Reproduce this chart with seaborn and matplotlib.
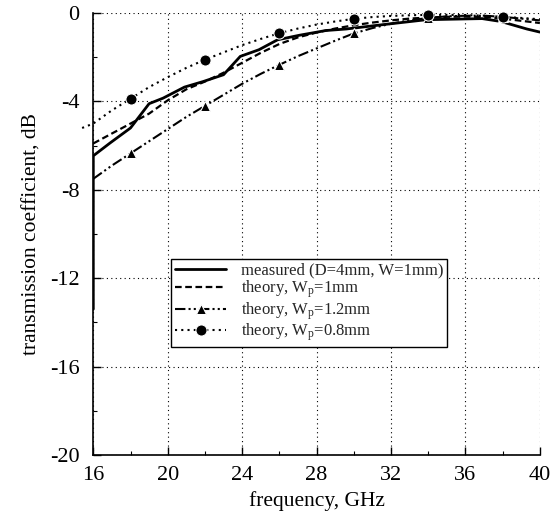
import matplotlib
matplotlib.use("Agg")
import matplotlib.pyplot as plt
import seaborn as sns
import pandas as pd

# ---- data ----
freq_theory = [16, 17, 18, 19, 20, 21, 22, 23, 24, 25, 26, 27, 28, 29, 30,
               31, 32, 33, 34, 35, 36, 37, 38, 39, 40]
theory_wp1 = [-5.9, -5.45, -5.0, -4.55, -3.95, -3.45, -3.1, -2.7, -2.25, -1.8,
              -1.4, -1.1, -0.88, -0.7, -0.55, -0.43, -0.33, -0.25, -0.2, -0.17,
              -0.16, -0.18, -0.25, -0.35, -0.45]
theory_wp12 = [-7.5, -6.9, -6.35, -5.8, -5.25, -4.7, -4.2, -3.7, -3.2, -2.75,
               -2.34, -1.95, -1.6, -1.25, -0.92, -0.68, -0.48, -0.33, -0.22,
               -0.15, -0.12, -0.12, -0.17, -0.25, -0.33]
freq_wp08 = [15.4] + freq_theory
theory_wp08 = [-5.2, -5.0, -4.4, -3.88, -3.35, -2.9, -2.48, -2.11, -1.78, -1.45,
               -1.17, -0.91, -0.7, -0.52, -0.38, -0.26, -0.18, -0.13, -0.1,
               -0.08, -0.08, -0.09, -0.12, -0.17, -0.22, -0.28]
freq_meas = [16, 16, 16.9, 18, 19, 19.75, 20.9, 21.9, 23, 23.9, 24.9, 25.9,
             27.1, 28.5, 29.6, 31.5, 33.9, 36.9, 37.9, 39.3, 40]
measured = [-13.4, -6.46, -5.88, -5.2, -4.1, -3.85, -3.35, -3.1, -2.79, -1.96,
            -1.66, -1.21, -1.0, -0.79, -0.72, -0.53, -0.3, -0.25, -0.38, -0.72,
            -0.86]

labels = ["measured (D=4mm, W=1mm)",
          r"theory, W$_{\rm p}$=1mm",
          r"theory, W$_{\rm p}$=1.2mm",
          r"theory, W$_{\rm p}$=0.8mm"]
xticks = [16, 20, 24, 28, 32, 36, 40]
yticks = [-20, -16, -12, -8, -4, 0]

sns.set_theme(style="white")
plt.rcParams["font.family"] = ["Liberation Serif", "DejaVu Serif"]
plt.rcParams["mathtext.fontset"] = "custom"
plt.rcParams["mathtext.rm"] = "Liberation Serif"
plt.rcParams["mathtext.it"] = "Liberation Serif:italic"
plt.rcParams["axes.unicode_minus"] = False

fig = plt.figure(figsize=(5.52, 5.23), dpi=100)
ax = fig.add_axes([0.169, 0.130, 0.809, 0.845])

sns.lineplot(x=freq_meas, y=measured, ax=ax, estimator=None, sort=False,
             color="black", lw=2.0, label=labels[0])
sns.lineplot(x=freq_theory, y=theory_wp1, ax=ax, estimator=None,
             color="black", lw=1.6, linestyle=(0, (3, 1.6)), label=labels[1])
sns.lineplot(x=freq_theory, y=theory_wp12, ax=ax, estimator=None,
             color="black", lw=1.5, linestyle=(0, (5, 1.5, 1, 1.5, 1, 1.5)),
             marker="^", markersize=7, markevery=slice(2, None, 4),
             label=labels[2])
sns.lineplot(x=freq_wp08, y=theory_wp08, ax=ax, estimator=None,
             color="black", lw=1.5, linestyle=(0, (1, 2)), marker="o",
             markersize=8, markevery=slice(3, None, 4), clip_on=False,
             label=labels[3])

ax.set_xlim(16, 40)
ax.set_ylim(-20, 0)
ax.set_xticks(xticks)
ax.set_yticks(yticks)
ax.set_xticks(range(16, 41, 2), minor=True)
ax.set_yticks(range(-20, 1, 2), minor=True)
ax.tick_params(which="both", direction="in", colors="black", labelsize=16,
               left=True, bottom=True, top=False, right=False)
ax.tick_params(which="major", length=6, width=1)
ax.tick_params(which="minor", length=3, width=0.8)
ax.tick_params(axis="y", which="major", pad=10)
ax.tick_params(axis="x", which="major", pad=8)
ax.grid(True, which="major", linestyle=(0, (1, 3)), color="black", lw=0.8)
for side in ["top", "right"]:
    ax.spines[side].set_visible(False)
for side in ["left", "bottom"]:
    ax.spines[side].set_color("black")
    ax.spines[side].set_linewidth(1.2)

ax.set_xlabel("frequency, GHz", fontsize=15.5, color="black", labelpad=4)
ax.set_ylabel("transmission coefficient, dB", fontsize=15.5, color="black",
              labelpad=6)

leg = ax.legend(loc="upper left", bbox_to_anchor=(0.175, 0.443),
                borderaxespad=0, fancybox=False, frameon=True,
                edgecolor="black", framealpha=1, fontsize=12,
                handlelength=3.1, labelspacing=0.0, borderpad=0.2,
                handletextpad=0.9)
leg.get_frame().set_linewidth(1.0)

fig.savefig("out.png", dpi=100)
